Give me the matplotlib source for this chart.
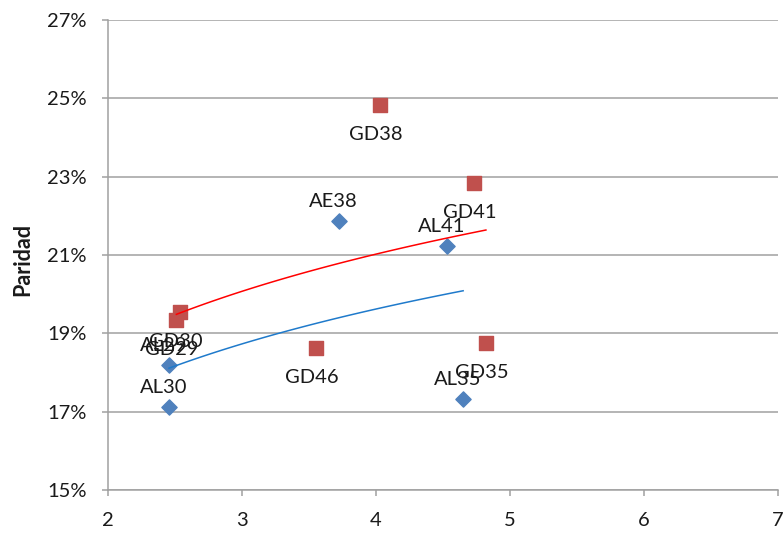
import numpy as np
import matplotlib.pyplot as plt
from matplotlib.ticker import PercentFormatter

plt.rcParams['font.family'] = ['Lato', 'DejaVu Sans']

# serie AL (ley argentina)
al_nombres = ["AL29", "AL30", "AE38", "AL41", "AL35"]
al_x = [2.455, 2.455, 3.72, 4.53, 4.65]
al_y = [18.19, 17.12, 21.86, 21.22, 17.32]

# serie GD (ley NY)
gd_nombres = ["GD29", "GD30", "GD38", "GD41", "GD46", "GD35"]
gd_x = [2.51, 2.54, 4.03, 4.73, 3.55, 4.82]
gd_y = [19.34, 19.54, 24.82, 22.83, 18.62, 18.75]

y_ticks = [15, 17, 19, 21, 23, 25, 27]
x_ticks = [2, 3, 4, 5, 6, 7]

color_al = "#4F81BD"
color_gd = "#C0504D"
gris = "#A0A0A0"
texto = "#1A1A1A"


def tendencia_log(x, y):
    """Ajuste logaritmico y = a*ln(x) + b, como la linea de tendencia de Excel."""
    a, b = np.polyfit(np.log(x), y, 1)
    xs = np.linspace(min(x), max(x), 100)
    return xs, a * np.log(xs) + b


fig = plt.figure(figsize=(7.84, 5.34), dpi=100)
ax = fig.add_axes([0.1378, 0.0824, 0.8546, 0.8801])

ax.scatter(gd_x, gd_y, marker="s", s=110, color=color_gd, zorder=3)
ax.scatter(al_x, al_y, marker="D", s=60, color=color_al, zorder=3)

xs, ys = tendencia_log(gd_x, gd_y)
ax.plot(xs, ys, color="#FF0000", lw=1.1, zorder=4)
xs, ys = tendencia_log(al_x, al_y)
ax.plot(xs, ys, color="#1F7ACB", lw=1.1, zorder=4)

for n, x, y in zip(al_nombres, al_x, al_y):
    ax.annotate(n, (x, y), xytext=(-4, 14), textcoords="offset points",
                ha="center", va="center", fontsize=14.5, color=texto, zorder=5)
for n, x, y in zip(gd_nombres, gd_x, gd_y):
    ax.annotate(n, (x, y), xytext=(-3, -21), textcoords="offset points",
                ha="center", va="center", fontsize=14.5, color=texto, zorder=5)

ax.set_xlim(2, 7)
ax.set_ylim(15, 27)
ax.set_xticks(x_ticks)
ax.set_yticks(y_ticks)
ax.yaxis.set_major_formatter(PercentFormatter(decimals=0))
ax.grid(axis="y", color=gris, lw=1.1)
ax.set_axisbelow(True)

for lado in ["top", "right"]:
    ax.spines[lado].set_visible(False)
for lado in ["left", "bottom"]:
    ax.spines[lado].set_color(gris)
    ax.spines[lado].set_linewidth(1.1)
ax.tick_params(colors=gris, length=4.5, width=1.1, pad=11,
               labelcolor=texto, labelsize=14.5)

ax.set_ylabel("Paridad", fontsize=15.5, fontweight="bold", va="center", color=texto)
ax.yaxis.set_label_coords(-0.128, 0.49)

fig.savefig("out.png", dpi=100)
